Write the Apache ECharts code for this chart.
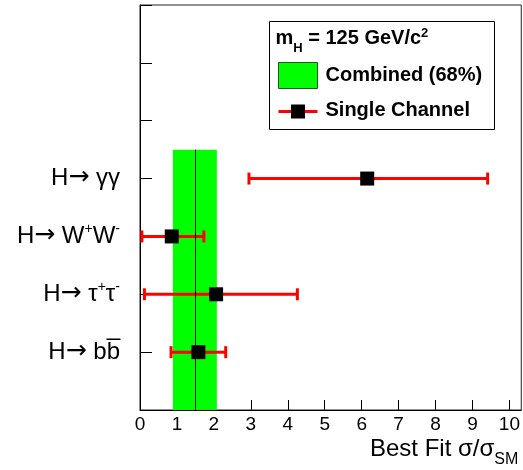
<!DOCTYPE html>
<html>
<head>
<meta charset="utf-8">
<script src="https://cdn.jsdelivr.net/npm/echarts@6/dist/echarts.min.js"></script>
<style>
html, body { margin: 0; padding: 0; background: #fff; }
#main { width: 523px; height: 470px; }
</style>
</head>
<body>
<div id="main"></div>
<script>
// channels, bottom to top
var channelPos = [1, 2, 3, 4];
var channelLabels = [
    '{m|H}{ar|\u2192}{m| bb\u0305}',
    '{m|H}{ar|\u2192}{m| \u03c4}{sup|+}{m|\u03c4}{sup|-}',
    '{m|H}{ar|\u2192}{m| W}{sup|+}{m|W}{sup|-}',
    '{m|H}{ar|\u2192}{m| \u03b3\u03b3}'
];
var bestFit = [1.58, 2.06, 0.86, 6.15];
var errLow = [0.84, 0.12, 0.05, 2.95];
var errHigh = [2.32, 4.26, 1.73, 9.41];

// combined 68% band
var combinedValue = 1.49;
var combinedLow = 0.89;
var combinedHigh = 2.08;
var combinedTop = 4.5;

var xTicks = [0, 1, 2, 3, 4, 5, 6, 7, 8, 9, 10];

var myChart = echarts.init(document.getElementById('main'));

var errData = [];
var pointData = [];
for (var i = 0; i < channelPos.length; i++) {
    errData.push([errLow[i], errHigh[i], channelPos[i]]);
    pointData.push([bestFit[i], channelPos[i]]);
}

var font = 'Liberation Sans, Arial, Helvetica, sans-serif';

myChart.setOption({
    animation: false,
    textStyle: { fontFamily: font },
    grid: {
        left: 140, right: 1, top: 5, bottom: 60,
        show: true, borderColor: '#222', borderWidth: 1
    },
    xAxis: {
        type: 'value',
        min: 0, max: 10.32, interval: 1,
        axisLine: { onZero: false, lineStyle: { color: '#000', width: 1 } },
        axisTick: { inside: true, length: 10, lineStyle: { color: '#000' } },
        splitLine: { show: false },
        axisLabel: {
            fontSize: 19, color: '#000', margin: 5,
            showMaxLabel: false,
            formatter: function (v) { return xTicks.indexOf(v) >= 0 ? String(v) : ''; }
        },
        name: '{m|Best Fit \u03c3/\u03c3}{sub|SM}',
        nameLocation: 'end',
        nameGap: -3,
        nameTextStyle: {
            align: 'right', verticalAlign: 'top', padding: [27, 0, 0, 0],
            rich: {
                m: { fontSize: 24, color: '#000', fontFamily: font },
                sub: { fontSize: 16, color: '#000', fontFamily: font, verticalAlign: 'bottom', padding: [0, 0, -7, 0] }
            }
        }
    },
    yAxis: {
        type: 'value',
        min: 0, max: 7, interval: 1,
        axisLine: { lineStyle: { color: '#000', width: 1 } },
        axisTick: { inside: true, length: 12, lineStyle: { color: '#000' } },
        splitLine: { show: false },
        axisLabel: {
            margin: 20,
            formatter: function (v) {
                var k = channelPos.indexOf(v);
                return k >= 0 ? channelLabels[k] : '';
            },
            rich: {
                m: { fontSize: 24, color: '#000', fontFamily: font, lineHeight: 28 },
                ar: { fontSize: 25, color: '#000', fontFamily: 'DejaVu Sans', lineHeight: 28, padding: [0, 0, 2, 0] },
                sup: { fontSize: 14, color: '#000', fontFamily: font, verticalAlign: 'top', lineHeight: 28, padding: [0, 0, 9, 0] }
            }
        }
    },
    series: [
        {
            name: 'Combined (68%)',
            type: 'line',
            data: [],
            markArea: {
                silent: true,
                itemStyle: { color: '#00ff00' },
                data: [[{ xAxis: combinedLow, yAxis: 0 }, { xAxis: combinedHigh, yAxis: combinedTop }]]
            },
            markLine: {
                silent: true,
                symbol: 'none',
                label: { show: false },
                lineStyle: { color: '#000', width: 1, type: 'solid' },
                data: [[{ coord: [combinedValue, 0] }, { coord: [combinedValue, combinedTop] }]]
            }
        },
        {
            name: 'Single Channel',
            type: 'custom',
            data: errData,
            z: 3,
            renderItem: function (params, api) {
                var p0 = api.coord([api.value(0), api.value(2)]);
                var p1 = api.coord([api.value(1), api.value(2)]);
                var st = { stroke: '#ff0000', lineWidth: 3 };
                return {
                    type: 'group',
                    children: [
                        { type: 'line', shape: { x1: p0[0], y1: p0[1], x2: p1[0], y2: p1[1] }, style: st },
                        { type: 'line', shape: { x1: p0[0], y1: p0[1] - 6, x2: p0[0], y2: p0[1] + 6 }, style: st },
                        { type: 'line', shape: { x1: p1[0], y1: p1[1] - 6, x2: p1[0], y2: p1[1] + 6 }, style: st }
                    ]
                };
            }
        },
        {
            name: 'Best Fit',
            type: 'scatter',
            data: pointData,
            z: 4,
            symbol: 'rect',
            symbolSize: 14,
            itemStyle: { color: '#000', opacity: 1 }
        }
    ],
    graphic: [
        {
            type: 'group',
            left: 269, top: 21,
            children: [
                { type: 'rect', shape: { x: 0, y: 0, width: 225, height: 108 }, style: { fill: '#fff', stroke: '#000', lineWidth: 1 } },
                {
                    type: 'text', x: 6, y: 5,
                    style: {
                        text: '{b|m}{sub|H}{b| = 125 GeV/c}{sup|2}',
                        rich: {
                            b: { fontSize: 20, fontWeight: 'bold', fontFamily: font, fill: '#000', lineHeight: 24 },
                            sub: { fontSize: 13, fontWeight: 'bold', fontFamily: font, fill: '#000', verticalAlign: 'bottom', lineHeight: 24, padding: [0, 0, -4, 0] },
                            sup: { fontSize: 13, fontWeight: 'bold', fontFamily: font, fill: '#000', verticalAlign: 'top', lineHeight: 24 }
                        }
                    }
                },
                { type: 'rect', shape: { x: 9, y: 41, width: 39, height: 26 }, style: { fill: '#00ff00', stroke: '#1a5c1a', lineWidth: 1 } },
                { type: 'text', x: 56, y: 54, style: { text: 'Combined (68%)', font: 'bold 20px ' + font, fill: '#000', verticalAlign: 'middle' } },
                { type: 'line', shape: { x1: 9, y1: 90, x2: 48, y2: 90 }, style: { stroke: '#ff0000', lineWidth: 3 } },
                { type: 'rect', shape: { x: 21.5, y: 83, width: 14, height: 14 }, style: { fill: '#000' } },
                { type: 'text', x: 56, y: 89, style: { text: 'Single Channel', font: 'bold 20px ' + font, fill: '#000', verticalAlign: 'middle' } }
            ]
        }
    ]
});
</script>
</body>
</html>
